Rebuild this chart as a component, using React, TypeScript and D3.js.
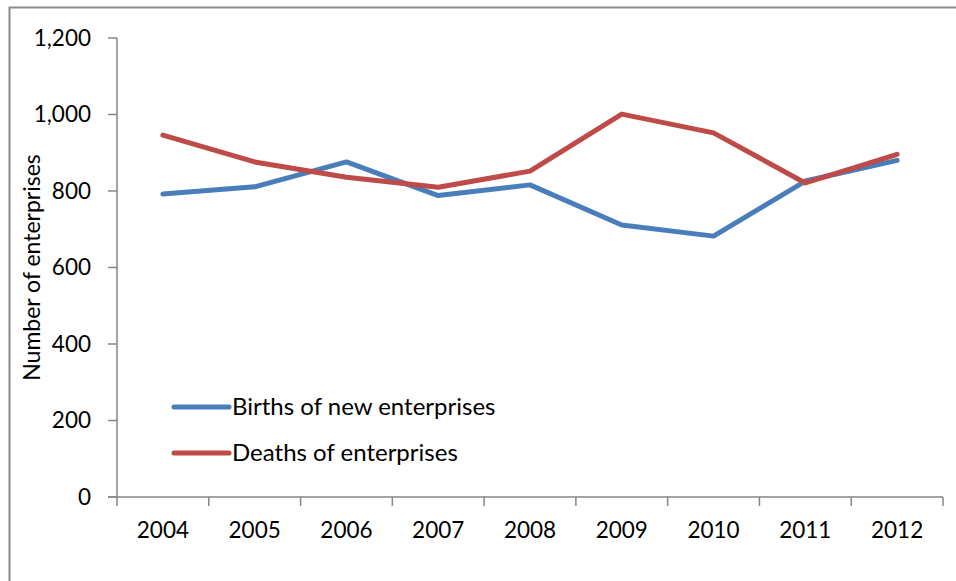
import React from "react";
import * as d3 from "d3";

const years = ["2004", "2005", "2006", "2007", "2008", "2009", "2010", "2011", "2012"];
const births = [792, 811, 876, 788, 816, 711, 682, 826, 880];
const deaths = [946, 876, 836, 810, 852, 1001, 952, 821, 896];
const yTicks = [0, 200, 400, 600, 800, 1000, 1200];
const seriesNames = ["Births of new enterprises", "Deaths of enterprises"];
const colors = ["#4a7ebb", "#be4b48"];

const W = 956;
const H = 581;
const axisColor = "#868686";
const font = "Lato, 'Open Sans', sans-serif";

export default function App() {
  const x = d3.scaleBand<string>().domain(years).range([117, 943]).paddingInner(0).paddingOuter(0);
  const y = d3.scaleLinear().domain([0, 1200]).range([497, 38]);
  const line = d3
    .line<number>()
    .x((_, i) => (x(years[i]) as number) + x.bandwidth() / 2)
    .y((d) => y(d));
  const boundaries = years.map((yr) => x(yr) as number).concat([x.range()[1]]);
  const series = [births, deaths];

  return (
    <svg
      width={W}
      height={H}
      style={{ position: "absolute", left: 0, top: 0, background: "#fff" }}
      fontFamily={font}
    >
      <rect x={0} y={0} width={W} height={H} fill="#fff" />
      {/* chart border */}
      <path d={`M9.5,${H} V7.5 H${W}`} fill="none" stroke="#8a8a8a" strokeWidth={2} />

      {/* y axis */}
      <line x1={117} x2={117} y1={y(1200)} y2={y(0)} stroke={axisColor} strokeWidth={1.5} />
      {yTicks.map((t) => (
        <g key={t}>
          <line x1={108} x2={117} y1={y(t)} y2={y(t)} stroke={axisColor} strokeWidth={1.5} />
          <text x={91} y={y(t)} dy="0.35em" textAnchor="end" fontSize={22.5} fill="#000">
            {d3.format(",")(t)}
          </text>
        </g>
      ))}

      {/* x axis */}
      <line x1={108} x2={x.range()[1]} y1={y(0)} y2={y(0)} stroke={axisColor} strokeWidth={1.5} />
      {boundaries.map((b, i) => (
        <line key={i} x1={b} x2={b} y1={y(0)} y2={y(0) + 9} stroke={axisColor} strokeWidth={1.5} />
      ))}
      {years.map((yr) => (
        <text
          key={yr}
          x={(x(yr) as number) + x.bandwidth() / 2}
          y={530}
          dy="0.35em"
          textAnchor="middle"
          fontSize={22.5}
          fill="#000"
        >
          {yr}
        </text>
      ))}

      {/* y axis title */}
      <text
        transform={`translate(32,${(y(0) + y(1200)) / 2}) rotate(-90)`}
        textAnchor="middle"
        dy="0.35em"
        fontSize={23}
        fill="#000"
      >
        Number of enterprises
      </text>

      {/* lines */}
      {series.map((s, i) => (
        <path
          key={i}
          d={line(s) || ""}
          fill="none"
          stroke={colors[i]}
          strokeWidth={5}
          strokeLinejoin="round"
          strokeLinecap="round"
        />
      ))}

      {/* legend */}
      {seriesNames.map((name, i) => (
        <g key={name} transform={`translate(0,${407 + i * 46})`}>
          <line x1={174} x2={229} y1={0} y2={0} stroke={colors[i]} strokeWidth={5} strokeLinecap="round" />
          <text x={232} y={0} dy="0.35em" fontSize={24} fill="#000">
            {name}
          </text>
        </g>
      ))}
    </svg>
  );
}
